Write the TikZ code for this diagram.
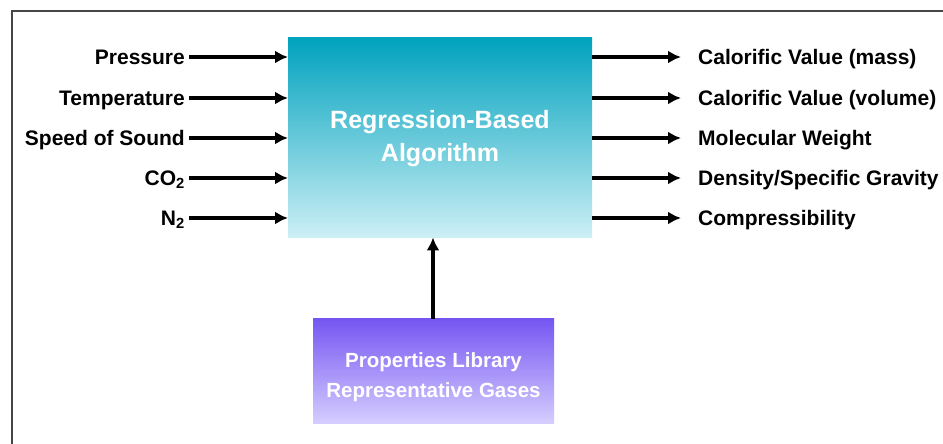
\documentclass[tikz,border=0pt]{standalone}
\usepackage{fontspec}
\setmainfont{Liberation Sans}
\usetikzlibrary{arrows.meta}
\definecolor{tealtop}{RGB}{0,162,190}
\definecolor{tealbot}{RGB}{204,239,245}
\definecolor{purptop}{RGB}{118,86,242}
\definecolor{purpbot}{RGB}{214,206,255}
\definecolor{framecol}{RGB}{70,70,70}
\begin{document}
\begin{tikzpicture}[x=1pt,y=-1pt,
  lbl/.style={font=\fontsize{21}{24}\selectfont\bfseries, inner sep=0pt, text height=15pt, text depth=0pt},
  inl/.style={lbl, anchor=east},
  outl/.style={lbl, anchor=west},
  arr/.style={line width=3.4pt, -{Latex[length=13pt,width=13pt]}},
  boxtxt/.style={font=\fontsize{25}{33}\selectfont\bfseries, align=center, inner sep=0pt, text=white},
  boxtxt2/.style={font=\fontsize{20.5}{30}\selectfont\bfseries, align=center, inner sep=0pt, text=white},
]
\useasboundingbox (0,0) rectangle (943,444);
\fill[white] (0,0) rectangle (943,444);
\draw[framecol, line width=2pt] (11.5,444) -- (11.5,11.5) -- (943,11.5);

% main box
\node[minimum width=304pt, minimum height=200pt, inner sep=0pt, top color=tealtop, bottom color=tealbot, anchor=north west] (box) at (288,37) {};
\node[boxtxt] (boxt) at (440,138.5) {Regression-Based\\Algorithm};

% library box
\node[minimum width=241pt, minimum height=105pt, inner sep=0pt, top color=purptop, bottom color=purpbot, anchor=north west] (lib) at (313,318.5) {};
\node[boxtxt2] (libt) at (433.5,377) {Properties Library\\Representative Gases};

% inputs
\node[inl] (i1) at (185,57) {Pressure};
\node[inl] (i2) at (185,98) {Temperature};
\node[inl] (i3) at (185,138) {Speed of Sound};
\node[inl] (i4) at (185,178) {CO\textsubscript{2}};
\node[inl] (i5) at (185,218) {N\textsubscript{2}};
\foreach \n in {i1,i2,i3,i4,i5}
  \draw[arr] ([xshift=4pt]\n.east) -- (\n.east -| box.west);

% outputs
\node[outl] (o1) at (698,57) {Calorific Value (mass)};
\node[outl] (o2) at (698,98) {Calorific Value (volume)};
\node[outl] (o3) at (698,138) {Molecular Weight};
\node[outl] (o4) at (698,178) {Density/Specific Gravity};
\node[outl] (o5) at (698,218) {Compressibility};
\foreach \n in {o1,o2,o3,o4,o5}
  \draw[arr] (\n.west -| box.east) -- ([xshift=-17pt]\n.west);

% library to box
\draw[arr] (lib.north -| 433,0) -- (box.south -| 433,0);
\end{tikzpicture}
\end{document}
